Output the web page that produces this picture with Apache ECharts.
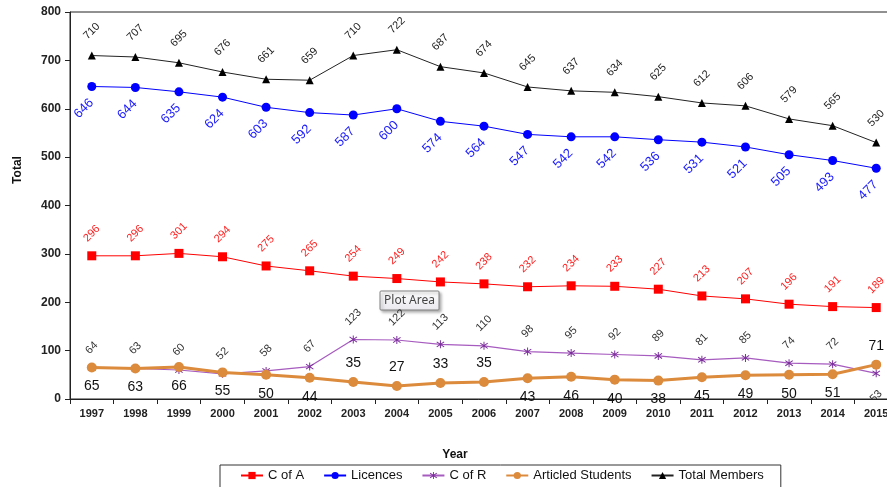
<!DOCTYPE html>
<html>
<head>
<meta charset="utf-8">
<script src="https://cdn.jsdelivr.net/npm/echarts@6/dist/echarts.min.js"></script>
<style>html,body{margin:0;padding:0;background:#fff}#c{width:887px;height:487px}</style>
</head>
<body>
<div id="c"></div>
<script>
const years = ['1997','1998','1999','2000','2001','2002','2003','2004','2005','2006','2007','2008','2009','2010','2011','2012','2013','2014','2015'];
const cOfA = [296,296,301,294,275,265,254,249,242,238,232,234,233,227,213,207,196,191,189];
const licences = [646,644,635,624,603,592,587,600,574,564,547,542,542,536,531,521,505,493,477];
const cOfR = [64,63,60,52,58,67,123,122,113,110,98,95,92,89,81,85,74,72,53];
const articled = [65,63,66,55,50,44,35,27,33,35,43,46,40,38,45,49,50,51,71];
const totalMembers = [710,707,695,676,661,659,710,722,687,674,645,637,634,625,612,606,579,565,530];
const yTicks = [0,100,200,300,400,500,600,700,800];

const FF = 'Liberation Sans, Arial, sans-serif';
const starPath = 'path://M4.4,0 L5.6,0 L5.6,10 L4.4,10 Z M0.85,1.31 L9.85,7.71 L9.15,8.69 L0.15,2.29 Z M0.15,7.71 L9.15,1.31 L9.85,2.29 L0.85,8.69 Z';

function rotatedAbove(v, fs, gap) {
  const n = String(v).length;
  return -(gap + (n * 0.556 * fs + 0.72 * fs) * 0.354);
}

function labelSeries(id, values, cfg) {
  return {
    type: 'custom', name: id, silent: true, z: 20, clip: !!cfg.clip,
    data: values.map((v, i) => [i, v]),
    renderItem: function (params, api) {
      const i = api.value(0), v = api.value(1);
      const p = api.coord([i, v]);
      const off = cfg.offset(i, v);
      return {
        type: 'text', x: p[0] + off[0], y: p[1] + off[1],
        rotation: cfg.rotate || 0,
        style: { text: String(v), fill: cfg.color, font: cfg.font, align: 'center', verticalAlign: 'middle' }
      };
    }
  };
}

const articledAbove = [6, 7, 8, 9, 18];
const cOfRBelow = [18];
const R45 = Math.PI / 4;

const chart = echarts.init(document.getElementById('c'));
chart.setOption({
  animation: false,
  textStyle: { fontFamily: FF },
  grid: { left: 70, top: 12, width: 828, height: 387, show: true, borderColor: '#222', borderWidth: 1,
          containLabel: false, outerBoundsMode: 'none' },
  xAxis: {
    type: 'category', data: years, boundaryGap: true,
    axisLine: { lineStyle: { color: '#222', width: 1 } },
    axisTick: { show: true, length: 5, lineStyle: { color: '#222' } },
    axisLabel: { interval: 0, color: '#222', fontWeight: 'bold', fontSize: 11, margin: 9, fontFamily: FF, hideOverlap: false },
    splitLine: { show: false }
  },
  yAxis: {
    type: 'value', min: yTicks[0], max: yTicks[yTicks.length - 1], interval: yTicks[1] - yTicks[0],
    axisLine: { show: true, lineStyle: { color: '#222', width: 1 } },
    axisTick: { show: true, length: 5, lineStyle: { color: '#222' } },
    axisLabel: { color: '#222', fontWeight: 'bold', fontSize: 12, margin: 9, fontFamily: FF },
    splitLine: { show: false }
  },
  legend: {
    data: ['C of A', 'Licences', 'C of R', 'Articled Students', 'Total Members'],
    left: 220, top: 465, itemWidth: 22, itemHeight: 9, itemGap: 19,
    padding: [4, 17, 8, 20], borderColor: '#333', borderWidth: 1,
    textStyle: { fontSize: 13, color: '#111', fontFamily: FF }
  },
  graphic: [
    { type: 'text', x: 18, y: 170, rotation: Math.PI / 2,
      style: { text: 'Total', font: 'bold 12px ' + FF, fill: '#111', align: 'center', verticalAlign: 'middle' } },
    { type: 'text', x: 455, y: 455,
      style: { text: 'Year', font: 'bold 12px ' + FF, fill: '#111', align: 'center', verticalAlign: 'middle' } },
    { type: 'group', x: 380, y: 291, z: 100, children: [
      { type: 'rect', shape: { x: 0, y: 0, width: 59, height: 19, r: 1 },
        style: { fill: new echarts.graphic.LinearGradient(0, 0, 0, 1, [{ offset: 0, color: '#ffffff' }, { offset: 1, color: '#e8e8ee' }]),
                 stroke: '#808080', lineWidth: 1, shadowBlur: 3, shadowOffsetX: 2, shadowOffsetY: 2, shadowColor: 'rgba(0,0,0,0.3)' } },
      { type: 'text', x: 29.5, y: 10,
        style: { text: 'Plot Area', font: '12px Noto Sans, sans-serif', fill: '#444', align: 'center', verticalAlign: 'middle' } }
    ] }
  ],
  series: [
    { name: 'C of A', type: 'line', data: cOfA, symbol: 'rect', symbolSize: 9,
      lineStyle: { color: '#ff0000', width: 1 }, itemStyle: { color: '#ff0000' } },
    { name: 'Licences', type: 'line', data: licences, symbol: 'circle', symbolSize: 9,
      lineStyle: { color: '#0000ff', width: 1 }, itemStyle: { color: '#0000ff' } },
    { name: 'C of R', type: 'line', data: cOfR, symbol: starPath, symbolSize: 8,
      lineStyle: { color: '#a65bbf', width: 1.2 }, itemStyle: { color: '#7b2d9b' } },
    { name: 'Articled Students', type: 'line', data: articled, symbol: 'circle', symbolSize: 10,
      lineStyle: { color: '#dc8a3c', width: 3 }, itemStyle: { color: '#dc8a3c' } },
    { name: 'Total Members', type: 'line', data: totalMembers, symbol: 'triangle', symbolSize: 8,
      lineStyle: { color: '#222', width: 1 }, itemStyle: { color: '#000' } },

    labelSeries('lbl-cofa', cOfA, { color: '#ff2020', font: '11px ' + FF, rotate: R45,
      offset: (i, v) => [0, rotatedAbove(v, 11, 13)] }),
    labelSeries('lbl-lic', licences, { color: '#1a1aff', font: '13px ' + FF, rotate: R45,
      offset: () => [-8, 22] }),
    labelSeries('lbl-cofr', cOfR, { color: '#333', font: '11px ' + FF, rotate: R45, clip: true,
      offset: (i, v) => cOfRBelow.indexOf(i) >= 0 ? [0, 23] : [0, rotatedAbove(v, 11, 13)] }),
    labelSeries('lbl-art', articled, { color: '#111', font: '14px ' + FF,
      offset: (i) => [0, articledAbove.indexOf(i) >= 0 ? -19 : 19] }),
    labelSeries('lbl-tot', totalMembers, { color: '#222', font: '11px ' + FF, rotate: R45,
      offset: (i, v) => [0, rotatedAbove(v, 11, 15)] })
  ]
});
</script>
</body>
</html>
